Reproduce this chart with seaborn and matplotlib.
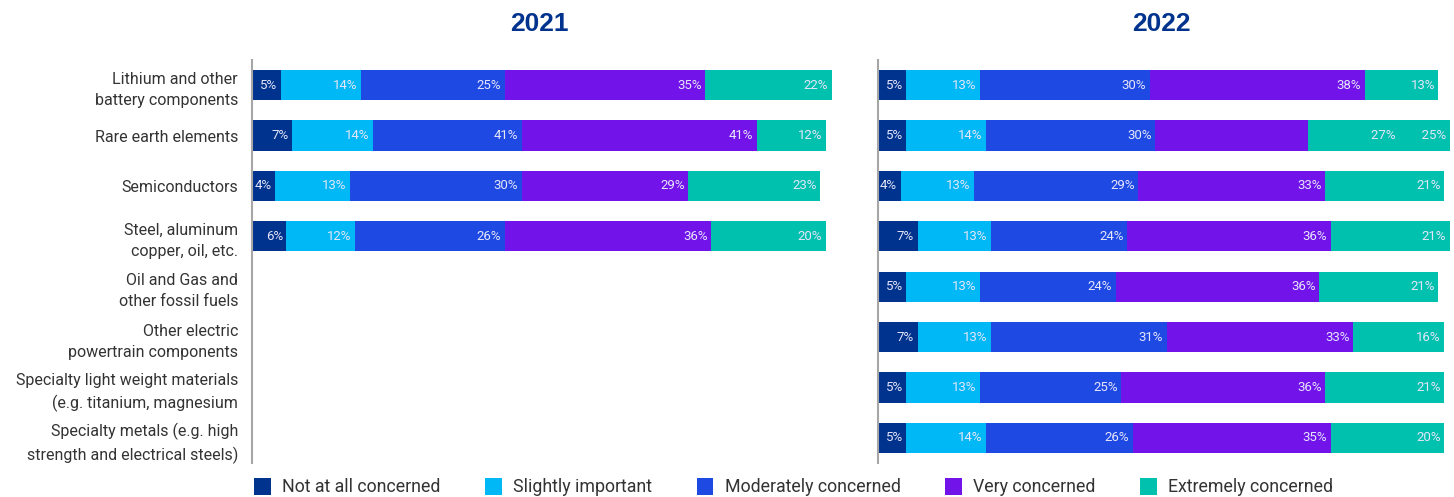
import numpy as np
import pandas as pd
import seaborn as sns
import matplotlib.pyplot as plt
from matplotlib.patches import Patch

# podaci
categories = [
    "Lithium and other\nbattery components",
    "Rare earth elements",
    "Semiconductors",
    "Steel, aluminum\ncopper, oil, etc.",
    "Oil and Gas and\nother fossil fuels",
    "Other electric\npowertrain components",
    "Specialty light weight materials\n(e.g. titanium, magnesium",
    "Specialty metals (e.g. high\nstrength and electrical steels)",
]
levels = ["Not at all concerned", "Slightly important", "Moderately concerned",
          "Very concerned", "Extremely concerned"]
colors = ["#00338D", "#00B8F5", "#1E49E2", "#7213EA", "#00C0AE"]

# 2021 (samo prve 4 kategorije) - sirine segmenata
not_at_all_2021 = [5, 7, 4, 6, np.nan, np.nan, np.nan, np.nan]
slightly_2021 = [14, 14, 13, 12, np.nan, np.nan, np.nan, np.nan]
moderately_2021 = [25, 26, 30, 26, np.nan, np.nan, np.nan, np.nan]
very_2021 = [35, 41, 29, 36, np.nan, np.nan, np.nan, np.nan]
extremely_2021 = [22, 12, 23, 20, np.nan, np.nan, np.nan, np.nan]

# oznake kako stoje na slici
labels_2021 = [
    ["5%", "14%", "25%", "35%", "22%"],
    ["7%", "14%", "41%", "41%", "12%"],
    ["4%", "13%", "30%", "29%", "23%"],
    ["6%", "12%", "26%", "36%", "20%"],
    ["", "", "", "", ""], ["", "", "", "", ""], ["", "", "", "", ""], ["", "", "", "", ""],
]

# 2022
not_at_all_2022 = [5, 5, 4, 7, 5, 7, 5, 5]
slightly_2022 = [13, 14, 13, 13, 13, 13, 13, 14]
moderately_2022 = [30, 30, 29, 24, 24, 31, 25, 26]
very_2022 = [38, 27, 33, 36, 36, 33, 36, 35]
extremely_2022 = [13, 25, 21, 21, 21, 16, 21, 20]

labels_2022 = [
    ["5%", "13%", "30%", "38%", "13%"],
    ["5%", "14%", "30%", "", "27%        25%"],
    ["4%", "13%", "29%", "33%", "21%"],
    ["7%", "13%", "24%", "36%", "21%"],
    ["5%", "13%", "24%", "36%", "21%"],
    ["7%", "13%", "31%", "33%", "16%"],
    ["5%", "13%", "25%", "36%", "21%"],
    ["5%", "14%", "26%", "35%", "20%"],
]

data = {
    "2021": [not_at_all_2021, slightly_2021, moderately_2021, very_2021, extremely_2021],
    "2022": [not_at_all_2022, slightly_2022, moderately_2022, very_2022, extremely_2022],
}
labels = {"2021": labels_2021, "2022": labels_2022}

sns.set_theme(style="white")
plt.rcParams['font.family'] = ['Roboto', 'DejaVu Sans']

fig = plt.figure(figsize=(14.54, 4.97), dpi=100)
ax1 = fig.add_axes([252 / 1454, 34 / 497, 574 / 1454, 403 / 497])
ax2 = fig.add_axes([878 / 1454, 34 / 497, 566 / 1454, 403 / 497])

for ax, year in [(ax1, "2021"), (ax2, "2022")]:
    vals = np.array(data[year], dtype=float).T  # redovi = kategorije
    cum = np.cumsum(vals, axis=1)
    df = pd.DataFrame(cum, columns=levels)
    df["cat"] = categories
    # crtanje od najveceg kumulativa ka najmanjem (stacked izgled)
    for k in range(len(levels) - 1, -1, -1):
        sub = df[df[levels[k]].notnull()]
        sns.barplot(data=sub, x=levels[k], y="cat", order=categories, orient="h",
                    color=colors[k], saturation=1, width=0.6, linewidth=0,
                    edgecolor="none", ax=ax)
    for p in ax.patches:
        p.set_clip_on(False)
    # oznake procenata
    for i in range(len(categories)):
        for k in range(len(levels)):
            if np.isnan(vals[i, k]) or labels[year][i][k] == "":
                continue
            ax.text(cum[i, k] - 0.6, i, labels[year][i][k], ha="right", va="center",
                    fontsize=9.5, color="#E6E6FA")
    ax.set_xlim(0, 100)
    ax.set_ylim(len(categories) - 0.5, -0.5)
    ax.set_xlabel("")
    ax.set_ylabel("")
    ax.set_xticks([])
    for s in ["top", "right", "bottom"]:
        ax.spines[s].set_visible(False)
    ax.spines["left"].set_color("#A6A6A6")
    ax.spines["left"].set_linewidth(1.5)
    ax.tick_params(axis="y", length=0)
    ax.set_title(year, fontsize=19, fontweight="bold", color="#00338D", pad=21,
                 family=["Liberation Sans", "DejaVu Sans"])

ax1.set_yticks(range(len(categories)))
ax1.set_yticklabels(categories, fontsize=11.5, color="#333333", linespacing=1.5)
ax1.tick_params(axis="y", pad=10)
ax2.set_yticklabels([])

handles = [Patch(facecolor=c, edgecolor="none") for c in colors]
fig.legend(handles, levels, loc="center left", bbox_to_anchor=(238 / 1454, 1 - 487 / 497),
           ncol=5, frameon=False, fontsize=12.75, handlelength=0.95, handleheight=1.15,
           columnspacing=2.5, handletextpad=0.65, labelcolor="#333333")

fig.savefig("out.png", dpi=100)
